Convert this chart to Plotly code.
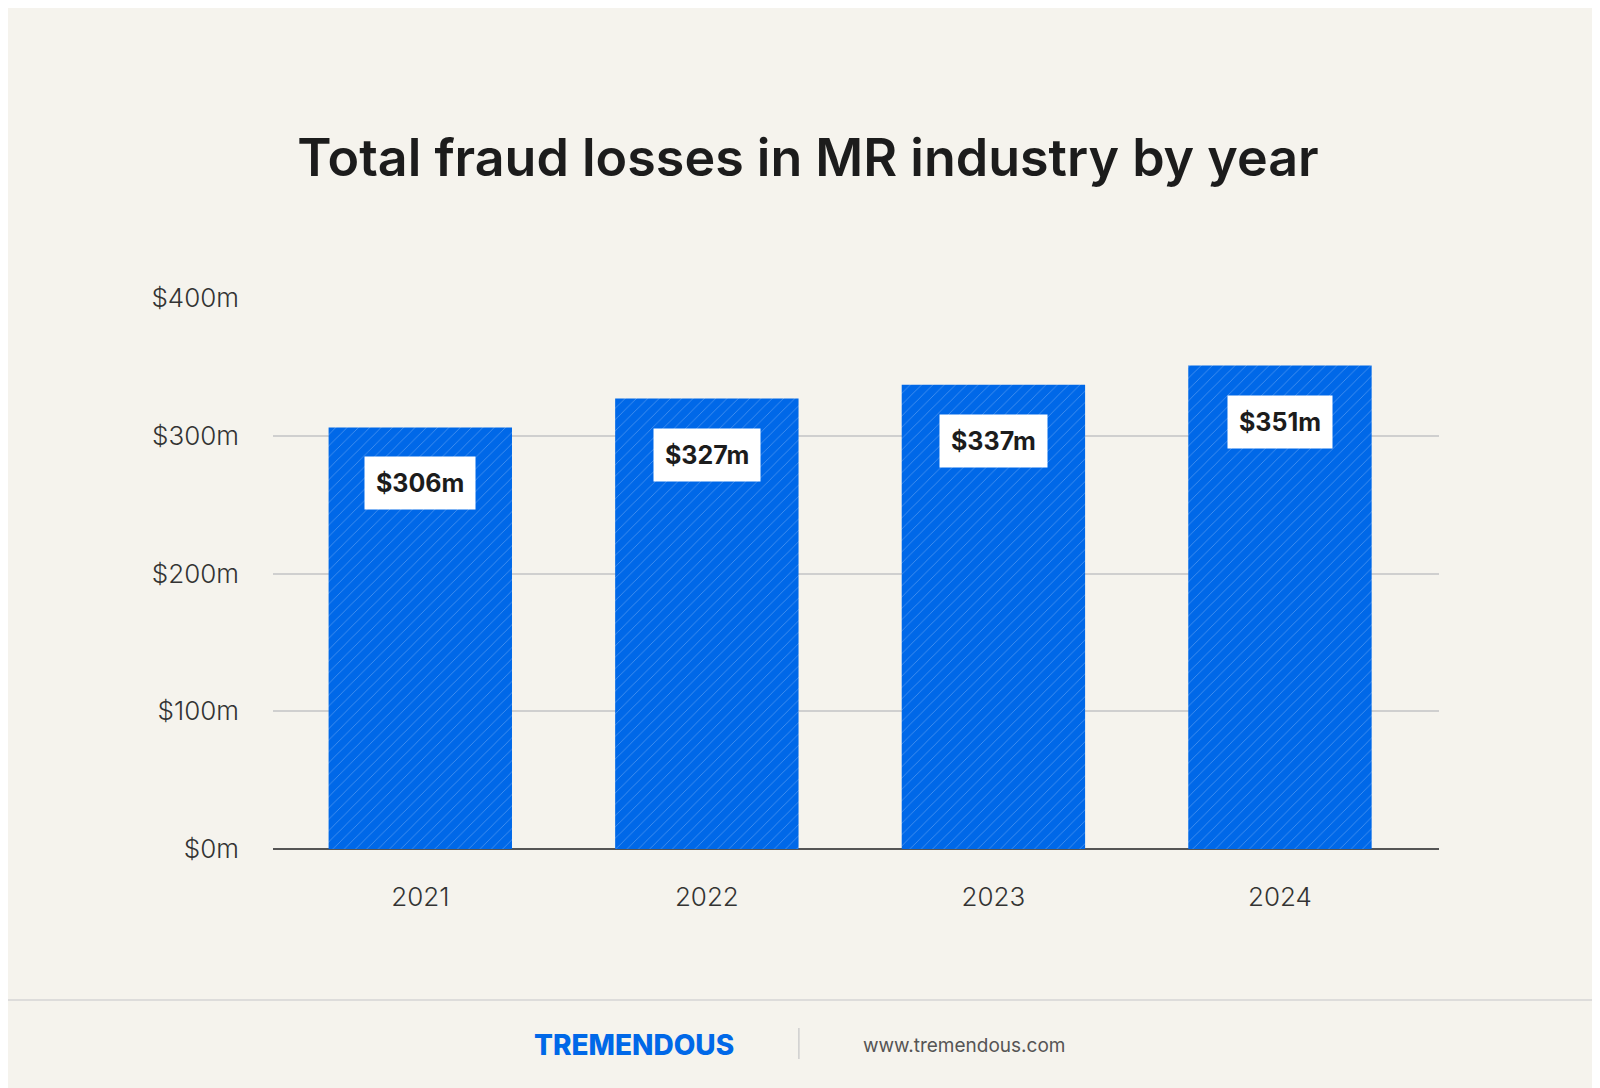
import plotly.graph_objects as go

years = ["2021", "2022", "2023", "2024"]
losses = [306, 327, 337, 351]
labels = ["$306m", "$327m", "$337m", "$351m"]
tick_vals = [0, 100, 200, 300, 400]
tick_text = ["$0m", "$100m", "$200m", "$300m", "$400m"]

BG = "#f5f3ed"
BLUE = "#0068e8"

fig = go.Figure(go.Bar(
    x=years, y=losses,
    marker=dict(color=BLUE, line=dict(width=0),
                pattern=dict(shape="/", fgcolor="rgba(255,255,255,0.6)",
                             size=8, solidity=0.1)),
    hoverinfo="skip",
))

# value labels (category index used for x)
for i, (v, lab) in enumerate(zip(losses, labels)):
    fig.add_annotation(x=i, y=v, xref="x", yref="y", text=lab, showarrow=False,
                       yshift=-56, bgcolor="white", borderpad=11,
                       font=dict(family="Inter", size=25, color="#1c1c1c", weight=700))

# footer
fig.add_shape(type="line", xref="paper", yref="paper", x0=-0.5, x1=1.5,
              y0=-0.274, y1=-0.274, line=dict(color="#d4d4d4", width=1.5))
fig.add_shape(type="line", xref="paper", yref="paper", x0=0.451, x1=0.451,
              y0=-0.325, y1=-0.381, line=dict(color="#cfcfcf", width=1.5))
fig.add_annotation(xref="paper", yref="paper", x=0.31, y=-0.356, showarrow=False,
                   xanchor="center", yanchor="middle", text="TREMENDOUS",
                   font=dict(family="Inter", size=28, color=BLUE, weight=800))
fig.add_annotation(xref="paper", yref="paper", x=0.593, y=-0.356, showarrow=False,
                   xanchor="center", yanchor="middle", text="www.tremendous.com",
                   font=dict(family="Inter", size=19, color="#555"))

fig.update_layout(
    width=1600, height=1088,
    paper_bgcolor=BG, plot_bgcolor=BG,
    margin=dict(l=265, r=169, t=290, b=247),
    bargap=0.36, showlegend=False,
    title=dict(text="Total fraud losses in MR industry by year", x=0.5, xanchor="center",
               y=0.862, yanchor="middle",
               font=dict(family="Inter", size=52, color="#1c1c1c", weight=600)),
    xaxis=dict(type="category", range=[-0.514, 3.555], showgrid=False, ticks="",
               showline=False, ticklabelstandoff=30,
               tickfont=dict(family="Inter", size=26, color="#333", weight=300)),
    yaxis=dict(range=[0, 400], tickvals=tick_vals, ticktext=tick_text,
               gridcolor="#cfcfcf", gridwidth=1.5, zeroline=True, zerolinecolor="#555",
               zerolinewidth=2, ticklabelstandoff=33,
               tickfont=dict(family="Inter", size=26, color="#333", weight=300)),
)
fig.write_html("out.html")
